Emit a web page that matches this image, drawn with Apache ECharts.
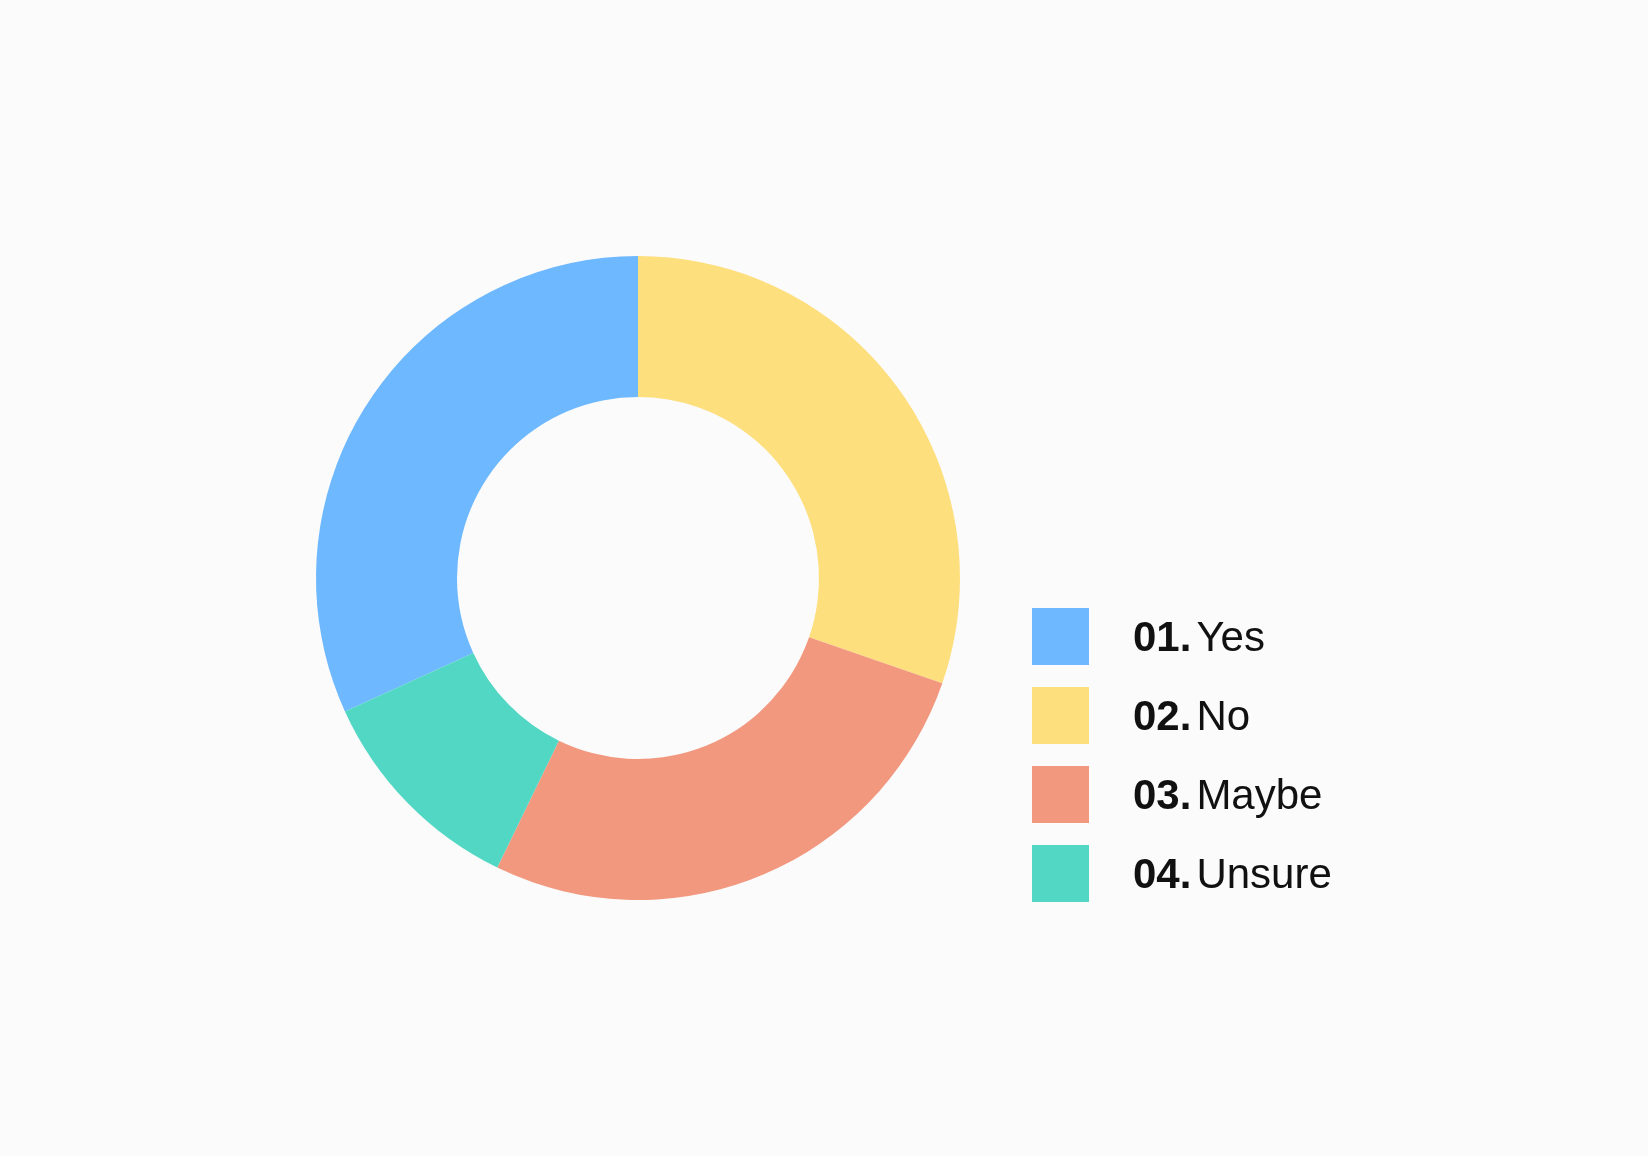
<!DOCTYPE html>
<html>
<head>
<meta charset="utf-8">
<script src="https://cdn.jsdelivr.net/npm/echarts@6/dist/echarts.min.js"></script>
<style>
  html, body { margin: 0; padding: 0; background: #fbfbfb; }
  #chart { width: 1648px; height: 1156px; }
</style>
</head>
<body>
<div id="chart"></div>
<script>
var names = ['Yes', 'No', 'Maybe', 'Unsure'];
var numbers = ['01.', '02.', '03.', '04.'];
var values = [31.8, 30.3, 26.9, 11.0];
var colors = ['#6db8ff', '#fedf7d', '#f2987f', '#52d7c4'];

var myChart = echarts.init(document.getElementById('chart'));

var total = values.reduce(function (a, b) { return a + b; }, 0);
// first slice (Yes) ends at 12 o'clock
var start = 90 + values[0] / total * 360;

var pieData = names.map(function (n, i) {
  return { name: n, value: values[i], itemStyle: { color: colors[i] } };
});

var option = {
  backgroundColor: '#fbfbfb',
  animation: false,
  legend: {
    orient: 'vertical',
    left: 1032,
    top: 608,
    padding: 0,
    itemWidth: 57,
    itemHeight: 57,
    itemGap: 22,
    icon: 'rect',
    data: names,
    formatter: function (name) {
      var i = names.indexOf(name);
      return '{n|' + numbers[i] + '}{t|' + name + '}';
    },
    textStyle: {
      padding: [6, 0, 0, 39],
      rich: {
        n: { fontFamily: 'Liberation Sans', fontWeight: 'bold', fontSize: 42, color: '#111' },
        t: { fontFamily: 'Liberation Sans', fontWeight: 'normal', fontSize: 42, color: '#111', padding: [0, 0, 0, 5] }
      }
    }
  },
  series: [{
    type: 'pie',
    center: [638, 578],
    radius: [181, 322],
    startAngle: start,
    clockwise: true,
    label: { show: false },
    labelLine: { show: false },
    emphasis: { disabled: true },
    itemStyle: { borderWidth: 0 },
    data: pieData
  }]
};

myChart.setOption(option);
</script>
</body>
</html>
